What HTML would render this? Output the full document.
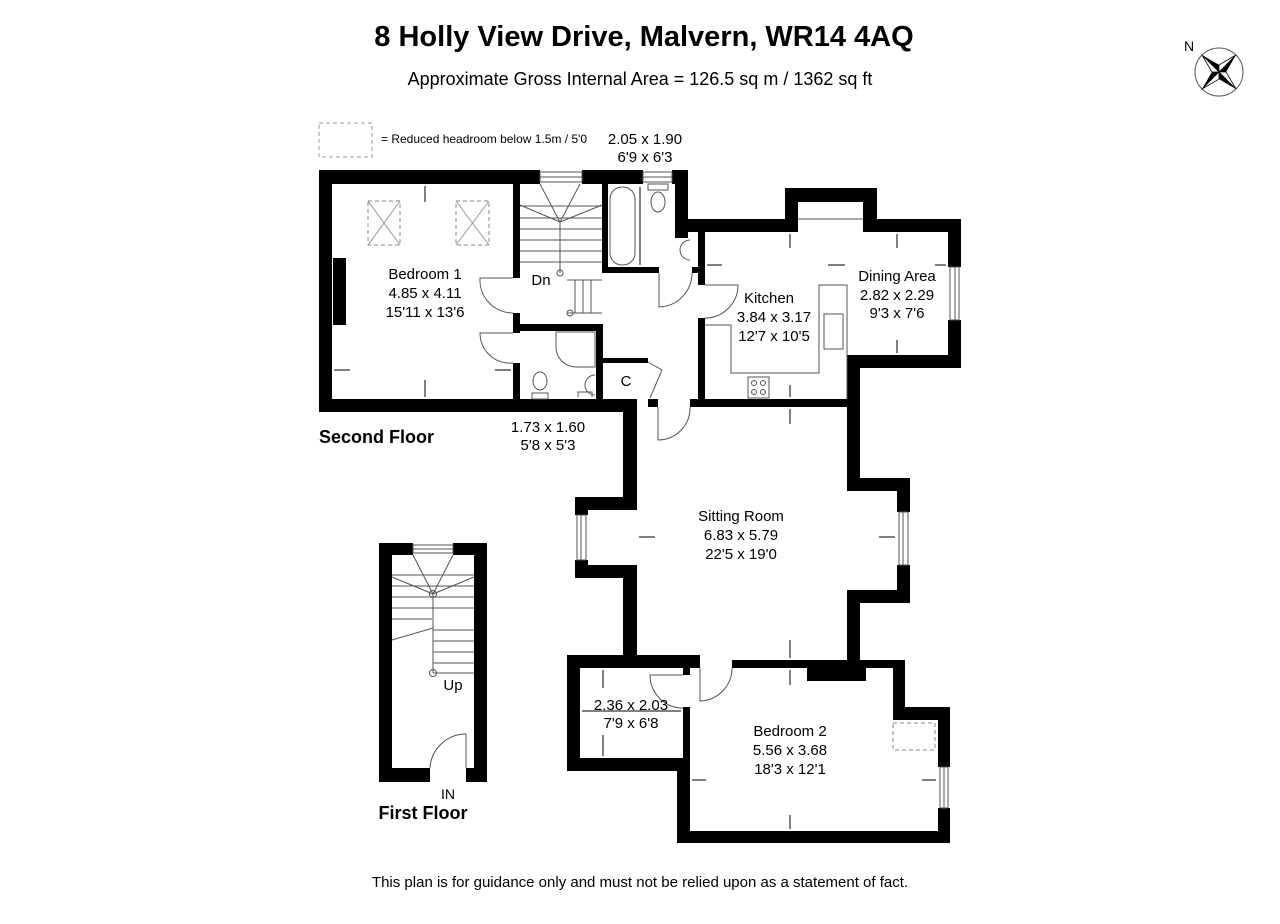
<!DOCTYPE html>
<html><head><meta charset="utf-8"><style>
html,body{margin:0;padding:0;background:#fff;}
svg{display:block;}
text{font-family:"Liberation Sans",Arial,sans-serif;fill:#000;}
</style></head><body>
<svg width="1280" height="924" viewBox="0 0 1280 924" xmlns="http://www.w3.org/2000/svg">
<text x="644" y="46" font-size="29" font-weight="bold" text-anchor="middle">8 Holly View Drive, Malvern, WR14 4AQ</text>
<text x="640" y="85" font-size="18" text-anchor="middle">Approximate Gross Internal Area = 126.5 sq m / 1362 sq ft</text>
<!-- compass -->
<text x="1184" y="51" font-size="14">N</text>
<circle cx="1219" cy="72" r="24" fill="none" stroke="#555" stroke-width="1"/>
<g transform="translate(1219,72) rotate(45)">
<polygon points="0,-24 5,-5 0,0" fill="#000"/><polygon points="0,-24 -5,-5 0,0" fill="#fff" stroke="#000" stroke-width="0.8"/>
<polygon points="24,0 5,5 0,0" fill="#000"/><polygon points="24,0 5,-5 0,0" fill="#fff" stroke="#000" stroke-width="0.8"/>
<polygon points="0,24 -5,5 0,0" fill="#000"/><polygon points="0,24 5,5 0,0" fill="#fff" stroke="#000" stroke-width="0.8"/>
<polygon points="-24,0 -5,-5 0,0" fill="#000"/><polygon points="-24,0 -5,5 0,0" fill="#fff" stroke="#000" stroke-width="0.8"/>
</g>
<!-- legend -->
<rect x="319" y="123" width="53" height="34" fill="none" stroke="#999" stroke-dasharray="4,3"/>
<text x="381" y="143" font-size="12">= Reduced headroom below 1.5m / 5'0</text>
<text x="645" y="144" font-size="15" text-anchor="middle">2.05 x 1.90</text>
<text x="645" y="162" font-size="15" text-anchor="middle">6'9 x 6'3</text>

<g fill="#000">
<rect x="319" y="170" width="221" height="14"/>
<rect x="582" y="170" width="61" height="14"/>
<rect x="672" y="170" width="16" height="14"/>
<rect x="319" y="170" width="13" height="242"/>
<rect x="333" y="258" width="13" height="67"/>
<rect x="319" y="399" width="318" height="13"/>
<rect x="513" y="184" width="7" height="94"/>
<rect x="513" y="313" width="7" height="20"/>
<rect x="513" y="363" width="7" height="37"/>
<rect x="520" y="324" width="83" height="7"/>
<rect x="602" y="184" width="6" height="89"/>
<rect x="602" y="267" width="57" height="6"/>
<rect x="596" y="324" width="7" height="76"/>
<rect x="603" y="358" width="45" height="5"/>
<rect x="675" y="170" width="13" height="68"/>
<rect x="675" y="219" width="123" height="13"/>
<rect x="785" y="188" width="13" height="44"/>
<rect x="785" y="188" width="92" height="14"/>
<rect x="863" y="188" width="14" height="44"/>
<rect x="863" y="219" width="98" height="13"/>
<rect x="948" y="219" width="13" height="48"/>
<rect x="948" y="320" width="13" height="48"/>
<rect x="847" y="355" width="114" height="13"/>
<rect x="698" y="232" width="7" height="53"/>
<rect x="692" y="267" width="6" height="6"/>
<rect x="698" y="318" width="7" height="89"/>
<rect x="690" y="399" width="170" height="8"/>
<rect x="847" y="355" width="13" height="136"/>
<rect x="648" y="399" width="10" height="8"/>
<rect x="623" y="400" width="14" height="110"/>
<rect x="575" y="497" width="62" height="13"/>
<rect x="575" y="497" width="13" height="18"/>
<rect x="575" y="560" width="13" height="18"/>
<rect x="575" y="565" width="62" height="13"/>
<rect x="623" y="565" width="14" height="103"/>
<rect x="847" y="478" width="63" height="13"/>
<rect x="897" y="478" width="13" height="34"/>
<rect x="897" y="565" width="13" height="38"/>
<rect x="847" y="590" width="63" height="13"/>
<rect x="847" y="590" width="13" height="78"/>
<rect x="567" y="655" width="133" height="13"/>
<rect x="732" y="660" width="173" height="8"/>
<rect x="807" y="668" width="59" height="13"/>
<rect x="893" y="660" width="12" height="60"/>
<rect x="893" y="707" width="57" height="13"/>
<rect x="938" y="707" width="12" height="60"/>
<rect x="938" y="808" width="12" height="35"/>
<rect x="677" y="831" width="273" height="12"/>
<rect x="677" y="758" width="13" height="85"/>
<rect x="567" y="655" width="13" height="116"/>
<rect x="567" y="758" width="123" height="13"/>
<rect x="683" y="707" width="7" height="64"/>
<rect x="683" y="668" width="7" height="7"/>
<rect x="379" y="543" width="34" height="12"/>
<rect x="453" y="543" width="34" height="12"/>
<rect x="379" y="543" width="13" height="239"/>
<rect x="474" y="543" width="13" height="239"/>
<rect x="379" y="768" width="51" height="14"/>
<rect x="466" y="768" width="21" height="14"/>
</g>

<g fill="none" stroke="#555" stroke-width="1">
<rect x="540" y="172" width="42" height="10"/><line x1="540" y1="177" x2="582" y2="177"/>
<rect x="643" y="172" width="29" height="10"/><line x1="643" y1="177" x2="672" y2="177"/>
<line x1="798" y1="219" x2="863" y2="219"/>
<rect x="950" y="267" width="9" height="53"/><line x1="955" y1="267" x2="955" y2="320"/>
<rect x="577" y="515" width="9" height="45"/><line x1="581" y1="515" x2="581" y2="560"/>
<rect x="899" y="512" width="9" height="53"/><line x1="903" y1="512" x2="903" y2="565"/>
<rect x="940" y="767" width="8" height="41"/><line x1="944" y1="767" x2="944" y2="808"/>
<rect x="413" y="545" width="40" height="8"/><line x1="413" y1="549" x2="453" y2="549"/>
<g stroke="#888" stroke-dasharray="4,3">
<rect x="368" y="201" width="32" height="44"/><rect x="456" y="201" width="33" height="44"/>
<rect x="893" y="723" width="42" height="27"/>
</g>
<g stroke="#999"><line x1="368" y1="201" x2="400" y2="245"/><line x1="400" y1="201" x2="368" y2="245"/>
<line x1="456" y1="201" x2="489" y2="245"/><line x1="489" y1="201" x2="456" y2="245"/></g>
<line x1="520" y1="206" x2="602" y2="206"/><line x1="520" y1="218" x2="602" y2="218"/>
<line x1="520" y1="229" x2="602" y2="229"/><line x1="520" y1="240" x2="602" y2="240"/>
<line x1="520" y1="251" x2="602" y2="251"/><line x1="520" y1="262" x2="602" y2="262"/>
<line x1="560" y1="222" x2="540" y2="184"/><line x1="560" y1="222" x2="580" y2="184"/>
<line x1="560" y1="222" x2="520" y2="205"/><line x1="560" y1="222" x2="602" y2="205"/>
<line x1="560" y1="222" x2="560" y2="273"/>
<line x1="567" y1="280" x2="602" y2="280"/><line x1="567" y1="313" x2="602" y2="313"/>
<line x1="575" y1="280" x2="575" y2="313"/><line x1="583" y1="280" x2="583" y2="313"/><line x1="591" y1="280" x2="591" y2="313"/>
<circle cx="560" cy="273" r="3"/><circle cx="570" cy="313" r="3"/>
<rect x="610" y="187" width="25" height="78" rx="12"/>
<ellipse cx="658" cy="202" rx="7" ry="10"/><rect x="648" y="184" width="20" height="6"/>
<!-- shower -->
<path d="M556 332 H595 V367 H576 A20 20 0 0 1 556 347 Z"/>
<path d="M578 397 v-5 h14 v5"/><ellipse cx="540" cy="381" rx="7" ry="9"/><rect x="532" y="393" width="16" height="6"/>
<path d="M595 375 a10 10 0 0 0 0 20" />
<path d="M690 240 a10 10 0 0 0 0 20" />
<path d="M705 325 H731 V373 H819 V285 H847 V399"/>
<rect x="824" y="314" width="19" height="35"/>
<rect x="748" y="377" width="21" height="21"/>
<circle cx="754" cy="383" r="2.5"/><circle cx="763" cy="383" r="2.5"/><circle cx="754" cy="392" r="2.5"/><circle cx="763" cy="392" r="2.5"/>
<path d="M513 278 H480 A33 33 0 0 0 513 313"/>
<path d="M513 333 H480 A30 30 0 0 0 513 363"/>
<path d="M659 273 V307 A34 34 0 0 0 692 273"/>
<path d="M705 285 H738 A33 33 0 0 1 705 318"/>
<path d="M658 407 V440 A32 32 0 0 0 690 407"/>
<path d="M648 362 L662 370 L650 398"/>
<path d="M700 668 V701 A33 33 0 0 0 732 668"/>
<path d="M683 675 H650 A33 33 0 0 0 683 708"/>
<path d="M466 768 V734 A36 36 0 0 0 430 768"/>
<line x1="392" y1="575" x2="474" y2="575"/><line x1="392" y1="586" x2="474" y2="586"/>
<line x1="392" y1="597" x2="474" y2="597"/><line x1="392" y1="608" x2="474" y2="608"/>
<line x1="392" y1="619" x2="432" y2="619"/><line x1="433" y1="630" x2="474" y2="630"/>
<line x1="433" y1="641" x2="474" y2="641"/><line x1="433" y1="652" x2="474" y2="652"/>
<line x1="433" y1="663" x2="474" y2="663"/><line x1="433" y1="673" x2="474" y2="673"/>
<line x1="433" y1="594" x2="413" y2="555"/><line x1="433" y1="594" x2="453" y2="555"/>
<line x1="433" y1="594" x2="392" y2="577"/><line x1="433" y1="594" x2="474" y2="577"/>
<line x1="433" y1="594" x2="433" y2="673"/><line x1="392" y1="640" x2="433" y2="628"/>
<circle cx="433" cy="594" r="3.5"/><circle cx="433" cy="673" r="3.5"/>
</g>
<g stroke="#000" stroke-width="1">
<line x1="425" y1="186" x2="425" y2="202"/><line x1="425" y1="380" x2="425" y2="397"/>
<line x1="334" y1="370" x2="350" y2="370"/><line x1="495" y1="370" x2="511" y2="370"/>
<line x1="790" y1="234" x2="790" y2="248"/><line x1="790" y1="385" x2="790" y2="397"/>
<line x1="897" y1="234" x2="897" y2="248"/><line x1="897" y1="340" x2="897" y2="353"/>
<line x1="707" y1="265" x2="722" y2="265"/><line x1="828" y1="265" x2="845" y2="265"/><line x1="935" y1="265" x2="946" y2="265"/>
<line x1="790" y1="409" x2="790" y2="424"/><line x1="790" y1="640" x2="790" y2="658"/>
<line x1="790" y1="670" x2="790" y2="685"/><line x1="790" y1="815" x2="790" y2="829"/>
<line x1="692" y1="780" x2="706" y2="780"/><line x1="922" y1="780" x2="936" y2="780"/>
<line x1="603" y1="670" x2="603" y2="688"/><line x1="603" y1="735" x2="603" y2="756"/>
<line x1="582" y1="711" x2="681" y2="711"/>
<line x1="639" y1="537" x2="655" y2="537"/><line x1="879" y1="537" x2="895" y2="537"/>
<line x1="640" y1="187" x2="640" y2="265"/>
</g>
<g font-size="15" text-anchor="middle">
<text x="425" y="279">Bedroom 1</text>
<text x="425" y="298">4.85 x 4.11</text>
<text x="425" y="317">15'11 x 13'6</text>
<text x="541" y="285">Dn</text>
<text x="769" y="303">Kitchen</text>
<text x="774" y="322">3.84 x 3.17</text>
<text x="774" y="341">12'7 x 10'5</text>
<text x="897" y="281">Dining Area</text>
<text x="897" y="300">2.82 x 2.29</text>
<text x="897" y="318">9'3 x 7'6</text>
<text x="626" y="386">C</text>
<text x="548" y="432">1.73 x 1.60</text>
<text x="548" y="450">5'8 x 5'3</text>
<text x="741" y="521">Sitting Room</text>
<text x="741" y="540">6.83 x 5.79</text>
<text x="741" y="559">22'5 x 19'0</text>
<text x="631" y="710">2.36 x 2.03</text>
<text x="631" y="728">7'9 x 6'8</text>
<text x="790" y="736">Bedroom 2</text>
<text x="790" y="755">5.56 x 3.68</text>
<text x="790" y="774">18'3 x 12'1</text>
<text x="453" y="690">Up</text>
</g>
<text x="319" y="443" font-size="18" font-weight="bold">Second Floor</text>
<text x="448" y="799" font-size="14" text-anchor="middle">IN</text>
<text x="423" y="819" font-size="18" font-weight="bold" text-anchor="middle">First Floor</text>
<text x="640" y="887" font-size="15" text-anchor="middle">This plan is for guidance only and must not be relied upon as a statement of fact.</text>
</svg>
</body></html>
